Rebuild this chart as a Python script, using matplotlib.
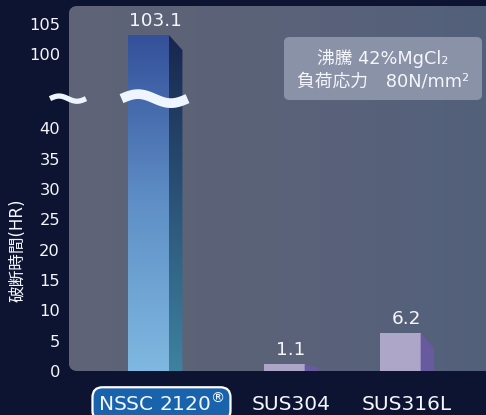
import numpy as np
import matplotlib
matplotlib.use('Agg')
import matplotlib.pyplot as plt
from matplotlib.patches import FancyBboxPatch, Polygon
from matplotlib.lines import Line2D
from matplotlib.colors import LinearSegmentedColormap
from matplotlib.transforms import blended_transform_factory

# ---------------- data ----------------
categories = ['NSSC 2120$^{®}$', 'SUS304', 'SUS316L']
values = [103.1, 1.1, 6.2]
value_labels = ['103.1', '1.1', '6.2']
yticks_lower = [0, 5, 10, 15, 20, 25, 30, 35, 40]
yticks_upper = [100, 105]
ylabel = '破断時間(HR)'
note_lines = ['沸騰 42%MgCl₂', '負荷応力　80N/mm²']

# ---------------- style / layout ----------------
W, H, DPI = 486, 415, 100
FONT = ['DejaVu Sans', 'Noto Sans CJK JP']
plt.rcParams['font.family'] = FONT
BG = '#0d1432'
WHITE = '#f4f6fb'

# broken axis scale
L, U = 45.2, 93.0
G = U - L
EPS = 0.001


def fwd(v):
    v = np.asarray(v, float)
    return np.where(v <= L, v, np.where(v >= U, v - G + EPS * G, L + (v - L) * EPS))


def inv(t):
    t = np.asarray(t, float)
    tb = L + EPS * G
    return np.where(t <= L, t, np.where(t >= tb, t + G - EPS * G, L + (t - L) / EPS))


fig = plt.figure(figsize=(W / DPI, H / DPI), dpi=DPI)
fig.patch.set_facecolor(BG)


def fx(px):
    return np.asarray(px, float) / W


def fy(py):
    return 1 - np.asarray(py, float) / H


ax_l, ax_r, ax_t, ax_b = 69, 486, 6, 371
PX_PER_UNIT = 6.07
ax = fig.add_axes([fx(ax_l), fy(ax_b), (ax_r - ax_l) / W, (ax_b - ax_t) / H])
ax.set_yscale('function', functions=(fwd, inv))
T_TOP = (ax_b - ax_t) / PX_PER_UNIT
ax.patch.set_visible(False)
for s in ax.spines.values():
    s.set_visible(False)

# panel background with gradient
panel = FancyBboxPatch((0, 0), 1.2, 1, boxstyle='round,pad=0,rounding_size=0.022',
                       transform=ax.transAxes, fc='#5a6278', ec='none', zorder=0,
                       clip_on=False)
ax.add_patch(panel)
pan_cmap = LinearSegmentedColormap.from_list('pan', ['#5f6477', '#596279', '#50607c'])
gx = np.linspace(0, 1, 256)[None, :]
ax.imshow(gx, extent=[0, 1.2, 0, 1], transform=ax.transAxes, cmap=pan_cmap,
          aspect='auto', origin='lower', clip_path=panel, zorder=0.1, clip_on=True)

# bars
x_pos = [0.1906, 0.5161, 0.7943]
bw = 0.098
depth = 13.5 / (ax_r - ax_l)
drop_px = 15
front_colors = ['none', '#aea6c9', '#aea6c9']
side_colors = [None, '#675a9f', '#675a9f']
bars = ax.bar(x_pos, values, width=bw, color=front_colors, zorder=2, linewidth=0)

front_cmap = LinearSegmentedColormap.from_list('fr', ['#7fb8e0', '#5f8fc6', '#34509a'])
side_cmap = LinearSegmentedColormap.from_list('sd', ['#3e82a0', '#2b5478', '#18264f'])
gy = np.linspace(0, 1, 256)[:, None]

for i, (xc, v) in enumerate(zip(x_pos, values)):
    x1 = xc + bw / 2
    tv = float(fwd(v))
    drop = min(drop_px / PX_PER_UNIT, 0.5 * tv)
    side_top = float(inv(tv - drop))
    poly = Polygon([(x1, 0), (x1, v), (x1 + depth, side_top), (x1 + depth, 0)],
                   closed=True, fc=side_colors[i] if side_colors[i] else 'none',
                   ec='none', zorder=2)
    ax.add_patch(poly)
    if i == 0:
        top_frac = tv / T_TOP
        ax.imshow(gy, extent=[xc - bw / 2, x1, 0, top_frac], transform=ax.transAxes,
                  cmap=front_cmap, aspect='auto', origin='lower',
                  clip_path=bars[i], zorder=2.1)
        ax.imshow(gy, extent=[x1, x1 + depth, 0, top_frac], transform=ax.transAxes,
                  cmap=side_cmap, aspect='auto', origin='lower',
                  clip_path=poly, zorder=2.1)
    ax.annotate(value_labels[i], xy=(xc + depth / 2, v), xytext=(0, 14 * 72 / DPI),
                textcoords='offset points', ha='center', va='center',
                fontsize=13.3, color=WHITE, zorder=5)

ax.set_xlim(0, 1)
ax.set_ylim(0, float(inv(T_TOP)))
ax.set_yticks(yticks_lower + yticks_upper)
ax.set_yticklabels([str(t) for t in yticks_lower + yticks_upper])
ax.tick_params(axis='y', length=0, pad=6.5, labelsize=11.7, labelcolor=WHITE)
ax.set_xticks([])

# x labels
trans = blended_transform_factory(ax.transData, fig.transFigure)
for i, (xc, lab) in enumerate(zip(x_pos, categories)):
    xl = xc + depth / 2
    if i == 0:
        ax.text(xl + 0.015, fy(404), lab, transform=trans, ha='center', va='center',
                fontsize=14.5, color=WHITE, clip_on=False,
                bbox=dict(boxstyle='round,pad=0.28,rounding_size=0.5', fc='#1963ad',
                          ec='white', lw=1.6))
    else:
        ax.text(xl, fy(404), lab, transform=trans, ha='center', va='center',
                fontsize=14.5, color=WHITE, clip_on=False)

# y label
fig.text(fx(18), fy(250), ylabel, rotation=90, ha='center', va='center',
         fontsize=12, color=WHITE)

# break marks (tilde)
def tilde(xc, yc, w, amp, lw):
    t = np.linspace(0, 1, 120)
    xs = xc - w / 2 + t * w
    ys = yc - amp * np.sin(2 * np.pi * t)
    fig.add_artist(Line2D(fx(xs), fy(ys), transform=fig.transFigure, color='#eef5ff',
                          lw=lw, solid_capstyle='butt', zorder=6))

break_y = ax_b - float(fwd(L)) * PX_PER_UNIT + 2
tilde(154.5, break_y, 66, 4.5, 7)
tilde(68, break_y, 36, 2.6, 3.8)

# note box
box = FancyBboxPatch((fx(284), fy(100)), 198 / W, 63 / H,
                     boxstyle='round,pad=0,rounding_size=0.012',
                     transform=fig.transFigure, fc='#8992a7', ec='none', zorder=5)
fig.add_artist(box)
fig.text(fx(383), fy(58), note_lines[0], ha='center', va='center', fontsize=12.8,
         color=WHITE, zorder=6)
fig.text(fx(383), fy(81), note_lines[1], ha='center', va='center', fontsize=12.8,
         color=WHITE, zorder=6)

fig.savefig('out.png', dpi=DPI, facecolor=BG)
